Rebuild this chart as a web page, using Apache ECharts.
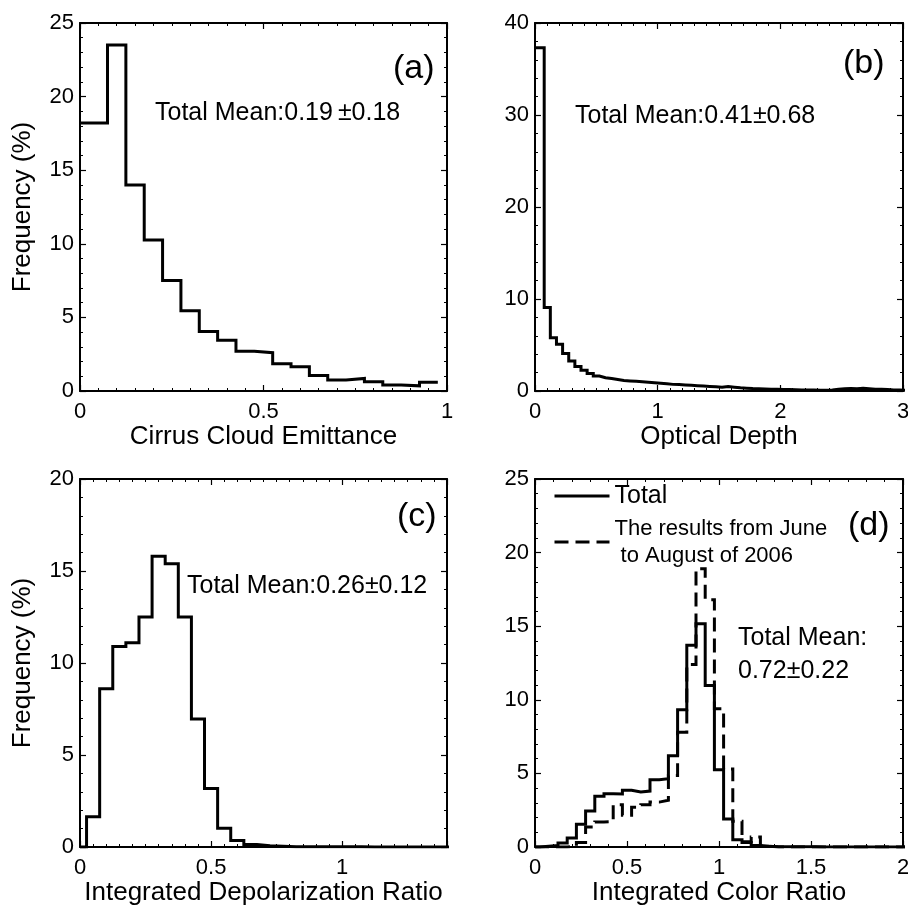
<!DOCTYPE html>
<html>
<head>
<meta charset="utf-8">
<script src="https://cdn.jsdelivr.net/npm/echarts@6.0.0/dist/echarts.min.js"></script>
<style>
  html, body { margin: 0; padding: 0; background: #fff; }
  #chart { width: 908px; height: 905px; }
</style>
</head>
<body>
<div id="chart"></div>
<script>
// ---- Histogram data (frequency in %), bins 0.05 wide ----
const BIN_WIDTH = 0.05;

// (a) Cirrus cloud emittance, bins starting at 0.025
const emittanceStart = 0.025;
const emittanceFreq = [18.2, 23.5, 14.0, 10.25, 7.5, 5.45, 4.05, 3.45, 2.7, 2.6,
                       1.85, 1.65, 1.05, 0.75, 0.85, 0.62, 0.4, 0.35, 0.6];

// (b) Optical depth, bins starting at 0.025
const depthStart = 0.025;
const depthFreq = [37.3, 9.07, 5.8, 5.08, 4.07, 3.27, 2.65, 2.25, 1.89, 1.63,
                   1.45, 1.35, 1.25, 1.15, 1.1, 1.05, 1.0, 0.95, 0.9, 0.85,
                   0.8, 0.72, 0.7, 0.66, 0.62, 0.58, 0.55, 0.5, 0.45, 0.4,
                   0.5, 0.42, 0.35, 0.3, 0.26, 0.24, 0.22, 0.2, 0.18, 0.16,
                   0.15, 0.13, 0.12, 0.1, 0.1, 0.09, 0.08, 0.1, 0.2, 0.25,
                   0.28, 0.25, 0.3, 0.25, 0.2, 0.18, 0.15, 0.12, 0.1, 0.08];

// (c) Integrated depolarization ratio, bins starting at 0.025
const depolStart = 0.025;
const depolFreq = [1.65, 8.6, 10.9, 11.1, 12.5, 15.8, 15.4, 12.5, 6.95, 3.18,
                   1.02, 0.36, 0.13, 0.07, 0.04, 0.02, 0.02, 0.01, 0.01, 0.01,
                   0.01, 0, 0, 0, 0, 0, 0, 0];

// (d) Integrated color ratio, bins starting at 0.025
const colorStart = 0.025;
const colorTotal = [0.05, 0.11, 0.27, 0.61, 1.54, 2.44, 3.44, 3.62, 3.6, 3.85,
                    3.73, 3.8, 4.57, 4.64, 6.2, 9.32, 13.7, 15.16, 10.97, 5.25,
                    1.9, 0.5, 0.3, 0.1, 0.05, 0.02, 0.02, 0.01, 0.01, 0.01,
                    0, 0, 0, 0, 0, 0, 0, 0, 0, 0];
const colorSummer = [0, 0, 0, 0.05, 0.3, 1.36, 1.7, 1.72, 2.87, 2.15,
                     2.7, 2.87, 3.05, 3.17, 4.86, 7.8, 12.4, 18.9, 16.8, 9.4,
                     5.3, 1.75, 0.35, 0.68, 0.05, 0, 0, 0, 0, 0,
                     0, 0, 0, 0, 0, 0, 0, 0, 0, 0];

// ---- Texts ----
const yTitle = 'Frequency (%)';
const xTitles = ['Cirrus Cloud Emittance', 'Optical Depth',
                 'Integrated Depolarization Ratio', 'Integrated Color Ratio'];
const panelTags = ['(a)', '(b)', '(c)', '(d)'];
const meanTexts = ['Total Mean:0.19\u2009\u00b10.18', 'Total Mean:0.41\u00b10.68',
                   'Total Mean:0.26\u00b10.12', 'Total Mean:', '0.72\u00b10.22'];
const seriesNames = ['Total', 'The results from June\n to August of 2006'];

// ---- Axis ranges ----
const xRanges = [
  { min: 0, max: 1,   interval: 0.5, minor: 10 },
  { min: 0, max: 3,   interval: 1,   minor: 10 },
  { min: 0, max: 1.4, interval: 0.5, minor: 10 },
  { min: 0, max: 2,   interval: 0.5, minor: 5 }
];
const yRanges = [
  { min: 0, max: 25, interval: 5,  minor: 5 },
  { min: 0, max: 40, interval: 10, minor: 5 },
  { min: 0, max: 20, interval: 5,  minor: 5 },
  { min: 0, max: 25, interval: 5,  minor: 5 }
];

const FONT = '"Liberation Sans", Arial, Helvetica, sans-serif';
const DASH = [14, 7];

// Build a histogram outline (stairs) from bin values.
// lead 'level': first value extends back to the axis; 'zero': rise from baseline.
function stairs(values, start, width, axisMin, lead) {
  const pts = [];
  if (lead === 'level') {
    pts.push([axisMin, values[0]]);
  } else {
    pts.push([axisMin, 0]);
    pts.push([start, 0]);
  }
  values.forEach((v, i) => {
    const x0 = +(start + i * width).toFixed(4);
    const x1 = +(start + (i + 1) * width).toFixed(4);
    pts.push([x0, v]);
    pts.push([x1, v]);
  });
  return pts;
}

const grids = [
  { left: 80,  top: 23,  width: 367, height: 368 },
  { left: 535, top: 23,  width: 368, height: 368 },
  { left: 80,  top: 479, width: 367, height: 368 },
  { left: 535, top: 479, width: 368, height: 368 }
];

const axisLineStyle = { color: '#000', width: 2 };
const xAxes = [];
const yAxes = [];
grids.forEach((g, i) => {
  const xr = xRanges[i], yr = yRanges[i];
  const common = {
    type: 'value', gridIndex: i, splitLine: { show: false },
    axisLine: { show: true, onZero: false, lineStyle: axisLineStyle },
    axisTick: { show: true, inside: true, length: 6, lineStyle: { color: '#000', width: 1.2 } }
  };
  xAxes.push(Object.assign({}, common, {
    position: 'bottom', min: xr.min, max: xr.max, interval: xr.interval,
    minorTick: { show: true, splitNumber: xr.minor, length: 3, lineStyle: { color: '#000', width: 1 } },
    axisLabel: { show: true, color: '#000', fontSize: 22, fontFamily: FONT, margin: 10,
                 showMaxLabel: i !== 2 },
    name: xTitles[i], nameLocation: 'middle', nameGap: 32,
    nameTextStyle: { color: '#000', fontSize: 26, fontFamily: FONT }
  }));
  xAxes.push(Object.assign({}, common, {
    position: 'top', min: xr.min, max: xr.max, interval: xr.interval,
    minorTick: { show: true, splitNumber: xr.minor, length: 3, lineStyle: { color: '#000', width: 1 } },
    axisLabel: { show: false }
  }));
  const yLeft = Object.assign({}, common, {
    position: 'left', min: yr.min, max: yr.max, interval: yr.interval,
    minorTick: { show: true, splitNumber: yr.minor, length: 3, lineStyle: { color: '#000', width: 1 } },
    axisLabel: { show: true, color: '#000', fontSize: 22, fontFamily: FONT, margin: 6 }
  });
  if (i === 0 || i === 2) {
    Object.assign(yLeft, {
      name: yTitle, nameLocation: 'middle', nameGap: 44, nameRotate: 90,
      nameTextStyle: { color: '#000', fontSize: 26, fontFamily: FONT }
    });
  }
  yAxes.push(yLeft);
  yAxes.push(Object.assign({}, common, {
    position: 'right', min: yr.min, max: yr.max, interval: yr.interval,
    minorTick: { show: true, splitNumber: yr.minor, length: 3, lineStyle: { color: '#000', width: 1 } },
    axisLabel: { show: false }
  }));
});

function lineSeries(name, gi, data, dash) {
  return {
    name: name, type: 'line', xAxisIndex: gi * 2, yAxisIndex: gi * 2,
    data: data, symbol: 'none', showSymbol: false, clip: true, silent: true,
    lineStyle: { color: '#000', width: 3, type: dash ? DASH : 'solid', cap: 'butt', join: 'miter' },
    itemStyle: { color: '#000' }, z: 3
  };
}

const series = [
  lineSeries('emittance', 0, stairs(emittanceFreq, emittanceStart, BIN_WIDTH, 0, 'level')),
  lineSeries('depth', 1, stairs(depthFreq, depthStart, BIN_WIDTH, 0, 'level')),
  lineSeries('depol', 2, stairs(depolFreq, depolStart, BIN_WIDTH, 0, 'zero')),
  lineSeries(seriesNames[0], 3, stairs(colorTotal, colorStart, BIN_WIDTH, 0, 'zero')),
  lineSeries(seriesNames[1], 3, stairs(colorSummer, colorStart, BIN_WIDTH, 0, 'zero'), true)
];

function label(text, x, y, size) {
  return {
    type: 'text', x: x, y: y, silent: true, z: 10,
    style: { text: text, fill: '#000', fontSize: size, fontFamily: FONT,
             align: 'left', verticalAlign: 'middle' }
  };
}

const option = {
  animation: false,
  backgroundColor: '#fff',
  grid: grids.map(g => Object.assign({ containLabel: false, outerBoundsMode: 'none' }, g)),
  xAxis: xAxes,
  yAxis: yAxes,
  legend: {
    orient: 'vertical', left: 553, top: 482, itemWidth: 55, itemHeight: 12, itemGap: 5,
    selectedMode: false, padding: 0,
    itemStyle: { opacity: 0 },
    lineStyle: { width: 3 },
    textStyle: { color: '#000', fontFamily: FONT },
    data: [
      { name: seriesNames[0], textStyle: { fontSize: 25, lineHeight: 28 } },
      { name: seriesNames[1], textStyle: { fontSize: 22, lineHeight: 27 } }
    ]
  },
  graphic: [
    label(panelTags[0], 393, 69, 34),
    label(panelTags[1], 843, 64, 34),
    label(panelTags[2], 397, 517, 34),
    label(panelTags[3], 848, 526, 34),
    label(meanTexts[0], 155, 113, 25),
    label(meanTexts[1], 575, 116, 25),
    label(meanTexts[2], 187, 586, 25),
    label(meanTexts[3], 738, 638, 25),
    label(meanTexts[4], 738, 671, 25)
  ],
  series: series
};

const chart = echarts.init(document.getElementById('chart'), null, { renderer: 'canvas' });
chart.setOption(option);
</script>
</body>
</html>
